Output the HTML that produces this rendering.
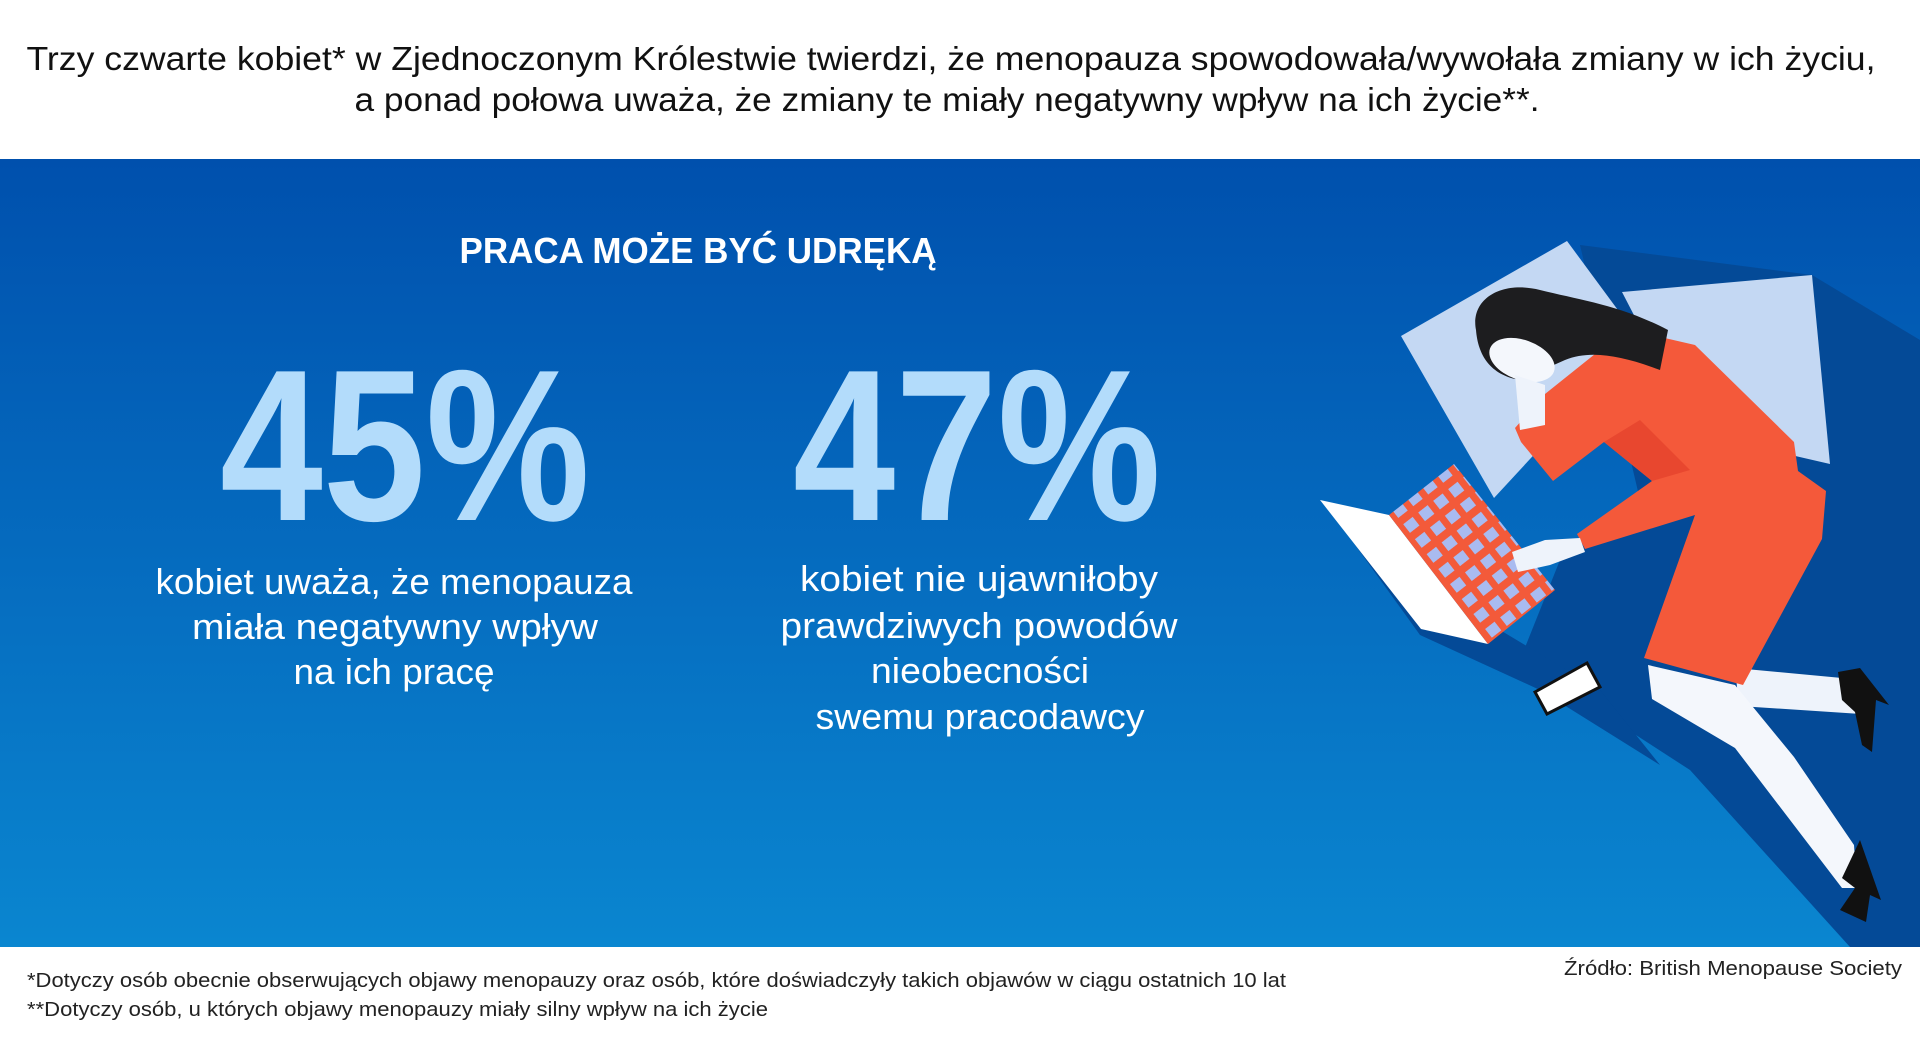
<!DOCTYPE html>
<html><head><meta charset="utf-8"><style>
html,body{margin:0;padding:0;background:#fff;}
svg{display:block;}
text{font-family:"Liberation Sans",sans-serif;}
</style></head><body>
<svg width="1920" height="1043" viewBox="0 0 1920 1043" xmlns="http://www.w3.org/2000/svg">
<defs>
<linearGradient id="bg" x1="0" y1="0" x2="0" y2="1">
<stop offset="0" stop-color="#0050ad"/>
<stop offset="1" stop-color="#0a86d0"/>
</linearGradient>
<pattern id="keys" width="19" height="19" patternUnits="userSpaceOnUse" patternTransform="rotate(-38)">
<rect width="19" height="19" fill="#f35a3a"/>
<rect x="4" y="4" width="12" height="11" fill="#a9bbf0"/>
</pattern>
</defs>
<rect x="0" y="0" width="1920" height="1043" fill="#fff"/>
<rect x="0" y="159" width="1920" height="788" fill="url(#bg)"/>

<text x="951" y="70" font-size="33" fill="#111" text-anchor="middle" textLength="1849" lengthAdjust="spacingAndGlyphs">Trzy czwarte kobiet* w Zjednoczonym Królestwie twierdzi, że menopauza spowodowała/wywołała zmiany w ich życiu,</text>
<text x="947" y="111" font-size="33" fill="#111" text-anchor="middle" textLength="1185" lengthAdjust="spacingAndGlyphs">a ponad połowa uważa, że zmiany te miały negatywny wpływ na ich życie**.</text>

<text x="698" y="263" font-size="36" font-weight="bold" fill="#fff" text-anchor="middle" textLength="477" lengthAdjust="spacingAndGlyphs">PRACA MOŻE BYĆ UDRĘKĄ</text>

<text x="405" y="520" font-size="216" font-weight="bold" fill="#b3dcfb" text-anchor="middle" textLength="370" lengthAdjust="spacingAndGlyphs">45%</text>
<text x="977" y="520" font-size="216" font-weight="bold" fill="#b3dcfb" text-anchor="middle" textLength="368" lengthAdjust="spacingAndGlyphs">47%</text>

<g font-size="36" fill="#fff" text-anchor="middle">
<text x="394" y="594" textLength="477" lengthAdjust="spacingAndGlyphs">kobiet uważa, że menopauza</text>
<text x="395" y="639" textLength="406" lengthAdjust="spacingAndGlyphs">miała negatywny wpływ</text>
<text x="394" y="684" textLength="201" lengthAdjust="spacingAndGlyphs">na ich pracę</text>
<text x="979" y="591" textLength="358" lengthAdjust="spacingAndGlyphs">kobiet nie ujawniłoby</text>
<text x="979" y="638" textLength="397" lengthAdjust="spacingAndGlyphs">prawdziwych powodów</text>
<text x="980" y="683" textLength="218" lengthAdjust="spacingAndGlyphs">nieobecności</text>
<text x="980" y="729" textLength="329" lengthAdjust="spacingAndGlyphs">swemu pracodawcy</text>
</g>

<!-- illustration -->
<polygon points="1580,245 1812,275 1920,340 1920,947 1850,947 1690,770 1520,660 1560,560 1640,500" fill="#044a97"/>
<polygon points="1330,510 1420,635 1540,690 1660,765 1600,690 1500,630" fill="#044a97"/>
<polygon points="1401,336 1567,241 1640,340 1494,498" fill="#c4d8f3"/>
<polygon points="1622,292 1812,275 1830,464 1695,433" fill="#c4d8f3"/>
<polygon points="1320,500 1389,515 1488,644 1421,629" fill="#ffffff"/>
<polygon points="1389,515 1454,464 1555,590 1488,644" fill="url(#keys)"/>
<polygon points="1535,692 1587,663 1600,687 1547,714" fill="#fff" stroke="#111" stroke-width="3"/>
<!-- legs -->
<polygon points="1735,668 1842,678 1861,714 1739,706" fill="#eef3fb"/>
<polygon points="1648,665 1735,685 1794,757 1854,845 1857,888 1842,888 1735,748 1652,699" fill="#f4f7fc"/>
<polygon points="1838,672 1860,668 1889,705 1876,700 1872,752 1862,745 1855,712 1842,700" fill="#111"/>
<polygon points="1842,878 1860,840 1881,900 1870,895 1866,922 1840,910 1855,888" fill="#111"/>
<!-- suit -->
<polygon points="1515,428 1545,394 1600,350 1656,336 1695,345 1794,442 1798,471 1826,491 1822,539 1743,685 1644,658 1695,515 1585,549 1577,534 1652,481 1604,442 1553,481 1521,442" fill="#f4593a"/>
<polygon points="1604,442 1652,481 1690,470 1640,420" fill="#e8472f"/>
<!-- hand -->
<polygon points="1512,552 1545,540 1580,538 1585,552 1550,565 1518,572" fill="#eef3fb"/>
<!-- hair & face -->
<path d="M1476,330 C1470,300 1500,280 1540,290 C1580,300 1620,305 1668,330 L1660,370 C1620,355 1590,350 1565,360 L1520,380 C1490,375 1478,355 1476,330 Z" fill="#1d1d1f"/>
<ellipse cx="1522" cy="360" rx="34" ry="20" fill="#f4f7fc" transform="rotate(20 1522 360)"/>
<polygon points="1515,375 1545,385 1545,425 1520,430" fill="#eef3fb"/>

<text x="27" y="987" font-size="20" fill="#222" textLength="1259" lengthAdjust="spacingAndGlyphs">*Dotyczy osób obecnie obserwujących objawy menopauzy oraz osób, które doświadczyły takich objawów w ciągu ostatnich 10 lat</text>
<text x="27" y="1016" font-size="20" fill="#222" textLength="741" lengthAdjust="spacingAndGlyphs">**Dotyczy osób, u których objawy menopauzy miały silny wpływ na ich życie</text>
<text x="1902" y="975" font-size="20" fill="#222" text-anchor="end" textLength="338" lengthAdjust="spacingAndGlyphs">Źródło: British Menopause Society</text>
</svg>
</body></html>
